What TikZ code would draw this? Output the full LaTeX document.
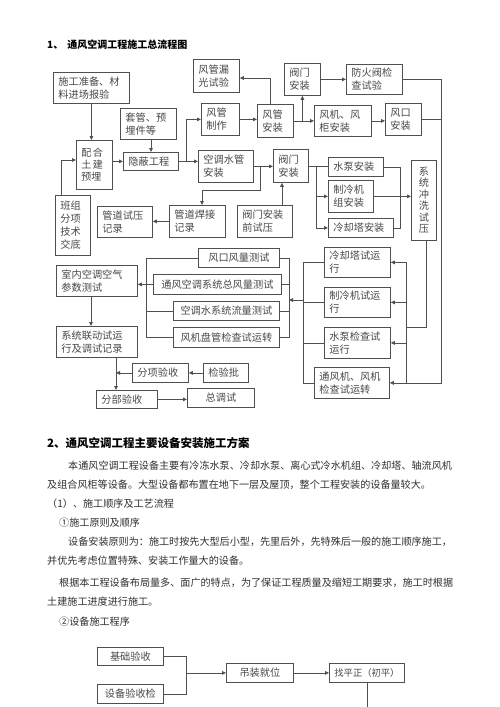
\documentclass[tikz,border=0pt]{standalone}
\usepackage{fontspec}
\setmainfont{Noto Sans CJK SC}
\usetikzlibrary{arrows.meta}
\definecolor{lc}{HTML}{505050}
\definecolor{tc}{HTML}{484848}
\definecolor{pc}{HTML}{303030}
\tikzset{
  box/.style={draw=lc, line width=0.8pt, inner xsep=5pt, inner ysep=1pt, anchor=north west, align=left, text=tc, font=\fontsize{10.2}{13}\selectfont},
  arr/.style={draw=lc, line width=0.8pt, -{Triangle[length=4pt,width=3.6pt]}},
  ln/.style={draw=lc, line width=0.8pt},
  ptxt/.style={anchor=west, inner sep=0pt, text=pc, font=\fontsize{10.1}{12}\selectfont},
}
\newcommand\bx[7][]{%
  \pgfmathsetlengthmacro\bw{#5-#3-10}%
  \pgfmathsetlengthmacro\bh{#6-#4}%
  \node[box,text width=\bw,minimum height=\bh,#1] (#2) at (#3,#4) {#7};}
\begin{document}
\begin{tikzpicture}[x=1pt,y=-1pt]
\fill[white] (0,0) rectangle (500,707);
\useasboundingbox (0,0) rectangle (500,707);

% titles
\node[ptxt, font=\bfseries\fontsize{10}{12}\selectfont, text=black] (t1) at (47,45) {1、\hspace{4pt}通风空调工程施工总流程图};

% boxes of diagram 1
\bx{prep}{53}{72}{129}{103}{施工准备、材\\料进场报验}
\bx{loug}{193}{59}{239}{92}{风管漏\\光试验}
\bx{taog}{120}{108}{176}{139}{套管、预\\埋件等}
\bx{fgzz}{201}{103}{239}{135}{风管\\制作}
\bx[font=\fontsize{10}{12}\selectfont]{peih}{76}{140}{112}{189}{配\hspace{1.5pt}合\\土\hspace{1.5pt}建\\预埋}
\bx{yinb}{123}{152}{178}{170}{隐蔽工程}
\bx{kts}{198}{150}{253}{182}{空调水管\\安装}
\bx{banz}{55}{195}{90}{255}{班组\\分项\\技术\\交底}
\bx{syjl}{97}{206}{152}{237}{管道试压\\记录}
\bx{hjjl}{169}{205}{225}{237}{管道焊接\\记录}
\bx{fmsy}{237}{205}{292}{237}{阀门安装\\前试压}
\bx{fm1}{284}{63}{320}{95}{阀门\\安装}
\bx{fhf}{346}{64}{402}{94}{防火阀检\\查试验}
\bx{fgaz}{257}{104}{293}{137}{风管\\安装}
\bx{fjfg}{314}{105}{371}{136}{风机、风\\柜安装}
\bx{fk}{385}{103}{421}{135}{风口\\安装}
\bx{fm2}{273}{149}{308}{182}{阀门\\安装}
\bx{sb}{328}{157}{383}{176}{水泵安装}
\bx{zlj}{328}{180}{373}{212}{制冷机\\组安装}
\bx{lqt}{328}{218}{393}{237}{冷却塔安装}
\bx[align=center,font=\fontsize{10.2}{11.5}\selectfont]{xtcx}{411}{160}{436}{240}{系\\统\\冲\\洗\\试\\压}
\bx{lqts}{324}{247}{390}{277}{冷却塔试运\\行}
\bx{zljs}{324}{287}{390}{317}{制冷机试运\\行}
\bx{sbs}{324}{327}{390}{358}{水泵检查试\\运行}
\bx{tfj}{314}{367}{389}{398}{通风机、风机\\检查试运转}
\bx[align=center]{fkfl}{198}{248}{279}{267}{风口风量测试}
\bx[align=center]{zfl}{153}{274}{281}{294}{通风空调系统总风量测试}
\bx[align=center]{lsl}{173}{301}{279}{320}{空调水系统流量测试}
\bx[align=center]{fjpg}{173}{327}{279}{347}{风机盘管检查试运转}
\bx{snkt}{56}{265}{137}{296}{室内空调空气\\参数测试}
\bx{xtld}{56}{326}{137}{357}{系统联动试运\\行及调试记录}
\bx{fxys}{132}{363}{188}{382}{分项验收}
\bx{jyp}{203}{363}{248}{382}{检验批}
\bx{fbys}{96}{390}{157}{408}{分部验收}
\bx[align=center]{ztc}{187}{388}{254}{407}{总调试}

% connectors of diagram 1
\coordinate (c1) at (61,160);
\draw[arr] (banz.north -| c1) -- (c1) -- (c1 -| peih.west);
\draw[arr] (prep.south) -- (prep.south |- peih.north);
\coordinate (c2) at (151,0);
\draw[arr] (taog.south -| c2) -- (c2 |- yinb.north);
\draw[arr] (peih.east |- yinb.west) -- (yinb.west);
\coordinate (c3) at (186,0);
\draw[arr] (yinb.east) -- (yinb.east -| kts.west);
\draw[arr] (yinb.east -| c3) |- (fgzz.west);
\draw[arr] (fgzz.east) -- (fgzz.east -| fgaz.west);
\coordinate (c4) at (270,78);
\draw[arr] (fgaz.north -| c4) -- (c4) -- (c4 -| loug.east);
\draw[arr] (fgaz.east) -- (fgaz.east -| fjfg.west);
\draw[arr] (fgaz.east -| fm1.south) -- (fm1.south);
\draw[arr] (fm1.east) -- (fm1.east -| fhf.west);
\draw[arr] (fjfg.east) -- (fjfg.east -| fk.west);
\coordinate (c5) at (441,0);
\draw[ln] (fk.east) -- (fk.east -| c5);
\draw[arr] (fhf.east) -| (c5 |- tfj.east) -- (tfj.east);
\draw[arr] (kts.east) -- (kts.east -| fm2.west);
\coordinate (c6) at (260,190);
\coordinate (c7) at (202,190);
\draw[arr] (kts.east -| c6) -- (c6) -- (c7) -- (c7 |- hjjl.north);
\draw[arr] (hjjl.west) -- (hjjl.west -| syjl.east);
\coordinate (c8) at (282,0);
\draw[arr] (fmsy.north -| c8) -- (c8 |- fm2.south);
\coordinate (c9) at (316,0);
\draw[ln] (fm2.east) -- (fm2.east -| sb.west);
\draw[arr] (fm2.east -| c9) |- (lqt.west);
\draw[arr] (c9 |- zlj.west) -- (zlj.west);
\coordinate (c10) at (400,0);
\draw[ln] (sb.east) -| (c10 |- lqt.east) -- (lqt.east);
\draw[arr] (zlj.east) -- (zlj.east -| xtcx.west);
\coordinate (c11) at (406,327);
\coordinate (c12) at (426,0);
\draw[ln] (c12 |- xtcx.south) |- (c11);
\draw[ln] (c11 |- lqts.east) -- (c11 |- tfj.east);
\draw[arr] (c11 |- lqts.east) -- (lqts.east);
\draw[arr] (c11 |- zljs.east) -- (zljs.east);
\draw[arr] (c11 |- sbs.east) -- (sbs.east);
\coordinate (c13) at (303,0);
\draw[ln] (lqts.west) -| (c13 |- tfj.west) -- (tfj.west);
\draw[ln] (zljs.west) -- (zljs.west -| c13);
\draw[ln] (sbs.west) -- (sbs.west -| c13);
\coordinate (c14) at (289,300);
\draw[arr] (c14 -| c13) -- (c14);
\draw[ln] (fkfl.east) -| (c14 |- fjpg.east) -- (fjpg.east);
\draw[ln] (zfl.east) -- (zfl.east -| c14);
\draw[ln] (lsl.east) -- (lsl.east -| c14);
\coordinate (c15) at (146,0);
\draw[ln] (fkfl.west) -| (c15 |- fjpg.west) -- (fjpg.west);
\draw[ln] (lsl.west) -- (lsl.west -| c15);
\draw[ln] (zfl.west) -- (zfl.west -| c15);
\draw[arr] (c15 |- zfl.west) -- (zfl.west -| snkt.east);
\coordinate (c16) at (91,0);
\draw[arr] (snkt.south -| c16) -- (c16 |- xtld.north);
\coordinate (c17) at (116,0);
\draw[arr] (xtld.south -| c17) -- (c17 |- fbys.north);
\draw[arr] (jyp.west) -- (jyp.west -| fxys.east);
\draw[arr] (fxys.west) -- (fxys.west -| c17);
\draw[arr] (fbys.east) -- (fbys.east -| ztc.west);

% text section
\node[ptxt, font=\bfseries\fontsize{11.5}{13}\selectfont, text=black] (t2) at (47,443) {2、通风空调工程主要设备安装施工方案};
\node[ptxt] (p1) at (68,466) {本通风空调工程设备主要有冷冻水泵、冷却水泵、离心式冷水机组、冷却塔、轴流风机};
\node[ptxt] (p2) at (47,485) {及组合风柜等设备。大型设备都布置在地下一层及屋顶，整个工程安装的设备量较大。};
\node[ptxt] (p3) at (47,504) {（1）、施工顺序及工艺流程};
\node[ptxt] (p4) at (59,523) {①施工原则及顺序};
\node[ptxt] (p5) at (68,542) {设备安装原则为：施工时按先大型后小型，先里后外，先特殊后一般的施工顺序施工，};
\node[ptxt] (p6) at (47,561) {并优先考虑位置特殊、安装工作量大的设备。};
\node[ptxt] (p7) at (59,583) {根据本工程设备布局量多、面广的特点，为了保证工程质量及缩短工期要求，施工时根据};
\node[ptxt] (p8) at (47,602) {土建施工进度进行施工。};
\node[ptxt] (p9) at (59,622) {②设备施工程序};

% diagram 2
\bx[align=center]{jcys}{97}{647}{163}{665}{基础验收}
\bx[align=center]{sbys}{97}{684}{163}{703}{设备验收检}
\bx[align=center]{dzjw}{226}{663}{293}{682}{吊装就位}
\bx[align=center,font=\fontsize{9.3}{12}\selectfont]{zpz}{329}{663}{404}{682}{找平正（初平）}
\coordinate (c18) at (186,0);
\draw[ln] (jcys.east) -| (c18 |- sbys.east) -- (sbys.east);
\draw[arr] (c18 |- dzjw.west) -- (dzjw.west);
\draw[arr] (dzjw.east) -- (dzjw.east -| zpz.west);
\coordinate (c19) at (367,707);
\draw[ln] (zpz.south -| c19) -- (c19);
\end{tikzpicture}
\end{document}
